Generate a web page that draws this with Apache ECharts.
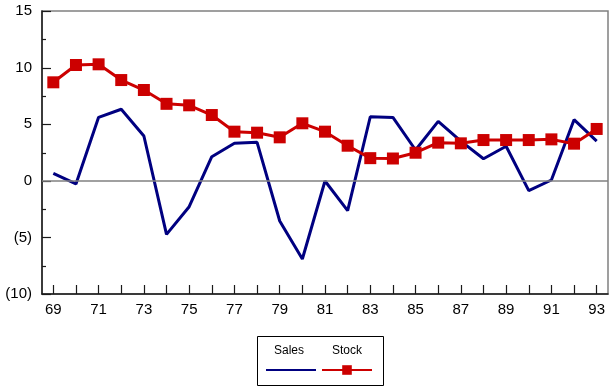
<!DOCTYPE html>
<html>
<head>
<meta charset="utf-8">
<script src="https://cdn.jsdelivr.net/npm/echarts@6/dist/echarts.min.js"></script>
<style>
  html, body { margin: 0; padding: 0; background: #fff; }
  #chart { width: 610px; height: 386px; }
</style>
</head>
<body>
<div id="chart"></div>
<script>
// Year-over-year change, 1969–1993
const years = ['69','70','71','72','73','74','75','76','77','78','79','80','81',
               '82','83','84','85','86','87','88','89','90','91','92','93'];
const sales = [0.66, -0.28, 5.61, 6.32, 3.96, -4.73, -2.29, 2.13, 3.31, 3.40, -3.55, -6.91, -0.02,
               -2.64, 5.66, 5.60, 2.72, 5.25, 3.50, 1.95, 3.05, -0.87, 0.07, 5.40, 3.50];
const stock = [8.70, 10.23, 10.29, 8.90, 8.02, 6.80, 6.67, 5.81, 4.34, 4.25, 3.84, 5.08, 4.34,
               3.10, 2.00, 1.97, 2.48, 3.37, 3.31, 3.60, 3.60, 3.60, 3.66, 3.28, 4.58];
// value-axis tick marks: long on labelled values, short in between
const yTickValues = [-10, -7.5, -5, -2.5, 0, 2.5, 5, 7.5, 10, 12.5, 15];
const yRange = { min: -10, max: 15, major: 5 };

const SALES_COLOR = '#000080';
const STOCK_COLOR = '#cc0000';
const AXIS_COLOR = '#1a1a1a';
const FONT = 'Liberation Sans, Arial, sans-serif';

const chart = echarts.init(document.getElementById('chart'));

chart.setOption({
  animation: false,
  backgroundColor: '#fff',
  grid: {
    left: 42, right: 2, top: 11, bottom: 92,
    show: true, borderColor: '#808080', borderWidth: 1.5
  },
  xAxis: {
    type: 'category',
    data: years,
    axisLine: { show: true, onZero: false, lineStyle: { color: AXIS_COLOR, width: 1.5 } },
    axisTick: { show: true, inside: true, length: 9, alignWithLabel: true,
                interval: () => true,
                lineStyle: { color: AXIS_COLOR, width: 1.2 } },
    axisLabel: { interval: 1, color: '#000', fontSize: 15, fontFamily: FONT, margin: 8 },
    splitLine: { show: false }
  },
  yAxis: {
    type: 'value',
    min: yRange.min, max: yRange.max, interval: yRange.major,
    axisLine: { show: true, onZero: false, lineStyle: { color: AXIS_COLOR, width: 1.5 } },
    axisTick: { show: false },
    axisLabel: {
      color: '#000', fontSize: 15, fontFamily: FONT, margin: 10,
      formatter: v => v < 0 ? '(' + (-v) + ')' : String(v)
    },
    splitLine: { show: false }
  },
  legend: {
    left: 260, top: 359,
    itemWidth: 50, itemHeight: 12, itemGap: 4,
    formatter: () => '',
    textStyle: { fontSize: 1 },
    data: [
      { name: 'Sales', itemStyle: { opacity: 0 } },
      { name: 'Stock' }
    ]
  },
  graphic: [
    { type: 'rect', left: 255, top: 334, silent: true,
      shape: { width: 126, height: 49 },
      style: { fill: 'none', stroke: '#000', lineWidth: 1 } },
    { type: 'text', left: 274, top: 345, silent: true,
      style: { text: 'Sales', fill: '#000', font: '12px ' + FONT } },
    { type: 'text', left: 332, top: 345, silent: true,
      style: { text: 'Stock', fill: '#000', font: '12px ' + FONT } }
  ],
  series: [
    {
      // inward tick marks along the value axis
      name: 'yTicks',
      type: 'custom',
      silent: true,
      clip: false,
      z: 1,
      data: yTickValues.map(v => [0, v]),
      renderItem: (params, api) => {
        const v = api.value(1);
        const y = Math.round(api.coord([0, v])[1]) + 0.5;
        const x0 = params.coordSys.x;
        const len = (v % yRange.major === 0) ? 9 : 4;
        return {
          type: 'line',
          shape: { x1: x0, y1: y, x2: x0 + len, y2: y },
          style: { stroke: AXIS_COLOR, lineWidth: 1.2 }
        };
      }
    },
    {
      name: 'Sales',
      type: 'line',
      data: sales,
      symbol: 'none',
      lineStyle: { color: SALES_COLOR, width: 3 },
      itemStyle: { color: SALES_COLOR },
      markLine: {
        silent: true, symbol: 'none',
        label: { show: false },
        lineStyle: { color: '#808080', width: 1.5, type: 'solid' },
        data: [{ yAxis: 0 }]
      },
      z: 2
    },
    {
      name: 'Stock',
      type: 'line',
      data: stock,
      symbol: 'rect',
      symbolSize: 12,
      lineStyle: { color: STOCK_COLOR, width: 3 },
      itemStyle: { color: STOCK_COLOR },
      z: 3
    }
  ]
});
</script>
</body>
</html>
